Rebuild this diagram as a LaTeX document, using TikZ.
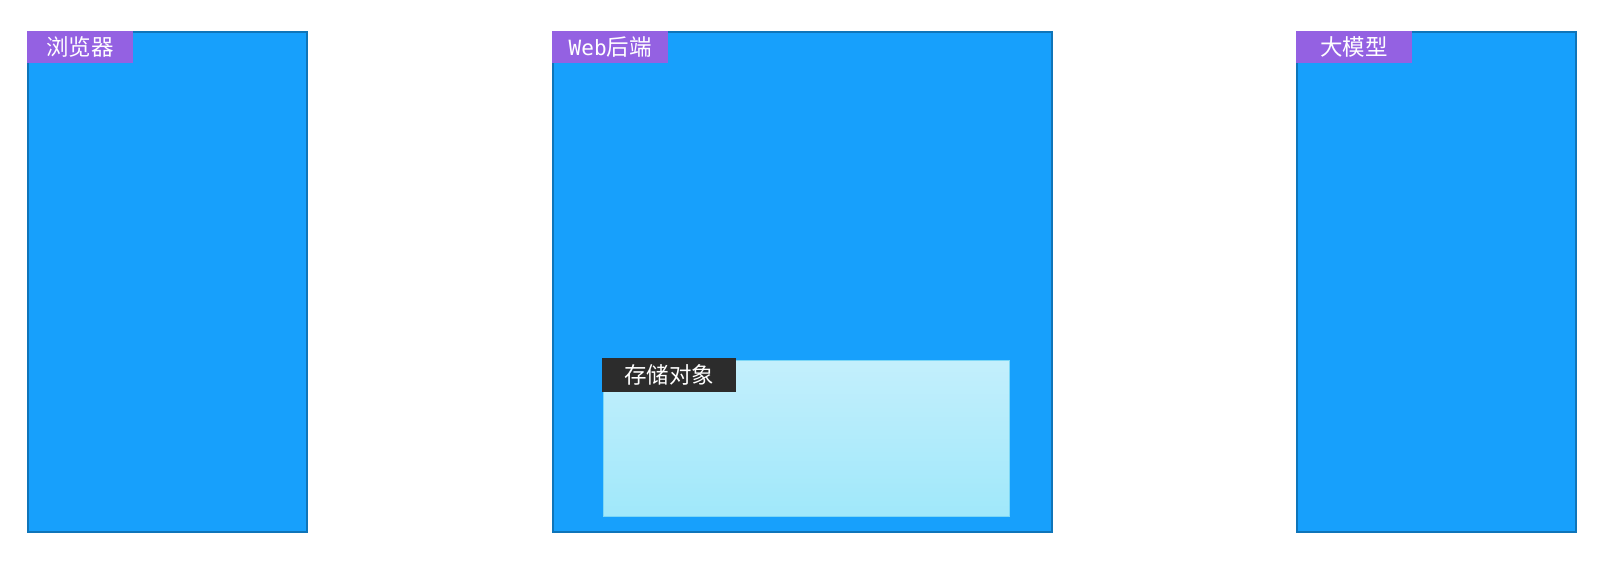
\documentclass[tikz,border=0pt]{standalone}
\usepackage{fontspec}
\newfontfamily\cjk{Noto Sans CJK SC}
\newfontfamily\monofont{DejaVu Sans Mono}
\definecolor{panelfill}{HTML}{17A0FC}
\definecolor{paneldraw}{HTML}{0F75B9}
\definecolor{tabpurple}{HTML}{9461E2}
\definecolor{storetop}{HTML}{C3EFFC}
\definecolor{storebot}{HTML}{A0E8FA}
\definecolor{storedraw}{HTML}{7CD7F6}
\definecolor{tabdark}{HTML}{2C2C2C}
\begin{document}
\begin{tikzpicture}[x=1pt,y=-1pt,
  panel/.style={draw=paneldraw, line width=2pt, fill=panelfill, rectangle, anchor=north west, inner sep=0pt},
  tab/.style={fill=tabpurple, rectangle, anchor=north west, inner sep=0pt, minimum height=32pt, text=white, font=\cjk\fontsize{22.5}{22.5}\selectfont},
  store/.style={draw=storedraw, line width=1pt, top color=storetop, bottom color=storebot, rectangle, anchor=north west, inner sep=0pt},
  darktab/.style={fill=tabdark, rectangle, anchor=north west, inner sep=0pt, minimum height=34pt, text=white, font=\cjk\fontsize{22.5}{22.5}\selectfont}]
\useasboundingbox[fill=white] (0,0) rectangle (1616,560);
\node[panel, minimum width=279pt, minimum height=500pt] (browser) at (27,31) {};
\node[tab, minimum width=106pt] (browsertab) at (27,31) {浏览器};
\node[panel, minimum width=499pt, minimum height=500pt] (web) at (552,31) {};
\node[tab, minimum width=116pt] (webtab) at (552,31) {{\monofont\fontsize{21}{21}\selectfont Web}后端};
\node[store, minimum width=406pt, minimum height=156pt] (store) at (603,360) {};
\node[darktab, minimum width=134pt] (storetab) at (602,358) {存储对象};
\node[panel, minimum width=279pt, minimum height=500pt] (llm) at (1296,31) {};
\node[tab, minimum width=116pt] (llmtab) at (1296,31) {大模型};
\end{tikzpicture}
\end{document}
